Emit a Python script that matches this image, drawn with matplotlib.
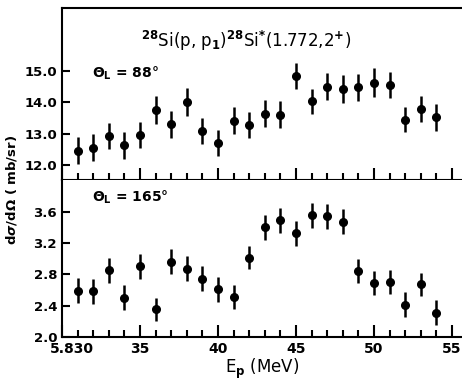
import numpy as np
import matplotlib.pyplot as plt
from matplotlib.ticker import MultipleLocator
from matplotlib.transforms import ScaledTranslation

# proton energy (MeV)
energy = np.arange(31, 55)

# theta_L = 88 deg
sig88 = [12.45, 12.55, 12.93, 12.63, 12.95, 13.75, 13.30, 14.00, 13.08, 12.71,
         13.42, 13.28, 13.64, 13.60, 14.84, 14.03, 14.50, 14.42, 14.48, 14.63,
         14.55, 13.44, 13.78, 13.52]
err88 = [0.43, 0.43, 0.42, 0.43, 0.42, 0.45, 0.43, 0.44, 0.42, 0.42,
         0.43, 0.42, 0.43, 0.43, 0.42, 0.40, 0.44, 0.45, 0.43, 0.45,
         0.42, 0.40, 0.42, 0.43]

# theta_L = 165 deg
sig165 = [2.59, 2.58, 2.85, 2.50, 2.90, 2.35, 2.96, 2.87, 2.74, 2.61,
          2.51, 3.01, 3.40, 3.49, 3.32, 3.55, 3.54, 3.47, 2.84, 2.69,
          2.70, 2.41, 2.67, 2.31]
err165 = [0.16, 0.16, 0.16, 0.16, 0.16, 0.15, 0.16, 0.16, 0.16, 0.16,
          0.15, 0.15, 0.16, 0.16, 0.16, 0.16, 0.16, 0.16, 0.15, 0.15,
          0.15, 0.16, 0.15, 0.16]

xticks = [30, 35, 40, 45, 50, 55]
xticklabels = ['5.830', '35', '40', '45', '50', '55']

plt.rcParams['font.family'] = 'DejaVu Sans'
plt.rcParams['font.weight'] = 'bold'

fig = plt.figure(figsize=(4.62, 3.85), dpi=100)
ax1 = fig.add_axes([0.134, 0.532, 0.866, 0.447])
ax2 = fig.add_axes([0.134, 0.125, 0.866, 0.407], sharex=ax1)

for ax, y, e in [(ax1, sig88, err88), (ax2, sig165, err165)]:
    ax.errorbar(energy, y, yerr=e, fmt='o', color='black', ms=5.5,
                elinewidth=1.8, capsize=0)
    ax.spines['right'].set_visible(False)
    for s in ['left', 'top', 'bottom']:
        ax.spines[s].set_linewidth(1.5)
    ax.xaxis.set_minor_locator(MultipleLocator(1))
    ax.tick_params(axis='x', which='major', direction='in', length=9, width=1.5)
    ax.tick_params(axis='x', which='minor', direction='in', length=5, width=1.5)
    ax.tick_params(axis='y', direction='in', length=6, width=1.5, labelsize=9.5)

ax1.set_xlim(30, 55.64)
ax1.set_ylim(11.52, 17.0)
ax1.set_yticks([12.0, 13.0, 14.0, 15.0])
ax1.set_yticklabels(['12.0', '13.0', '14.0', '15.0'])
ax1.tick_params(axis='x', labelbottom=False)

ax2.set_ylim(2.0, 4.0)
ax2.set_yticks([2.0, 2.4, 2.8, 3.2, 3.6])
ax2.set_yticklabels(['2.0', '2.4', '2.8', '3.2', '3.6'])
ax2.spines['top'].set_visible(False)
ax2.set_xticks(xticks)
ax2.set_xticklabels(xticklabels, fontsize=10)
ax2.set_xlabel(r'E$_\mathrm{p}$ (MeV)', fontsize=12, labelpad=1)

# first x label sits a little right of the axis corner
first = ax2.get_xticklabels()[0]
first.set_transform(first.get_transform()
                    + ScaledTranslation(0.10, 0, fig.dpi_scale_trans))

ax1.text(0.46, 0.81, r'$^{28}$Si(p, p$_\mathrm{1}$)$^{28}$Si$^{*}$(1.772,2$^{+}$)',
         transform=ax1.transAxes, ha='center', va='center', fontsize=12,
         fontweight='normal')
ax1.text(0.075, 0.62, r'$\Theta_\mathrm{L}$ = 88°', transform=ax1.transAxes,
         ha='left', va='center', fontsize=10)
ax2.text(0.075, 0.89, r'$\Theta_\mathrm{L}$ = 165°', transform=ax2.transAxes,
         ha='left', va='center', fontsize=10)

fig.text(0.025, 0.506, r'd$\sigma$/d$\Omega$ ( mb/sr)', rotation=90,
         ha='center', va='center', fontsize=9.5)

fig.savefig('out.png', dpi=100)
